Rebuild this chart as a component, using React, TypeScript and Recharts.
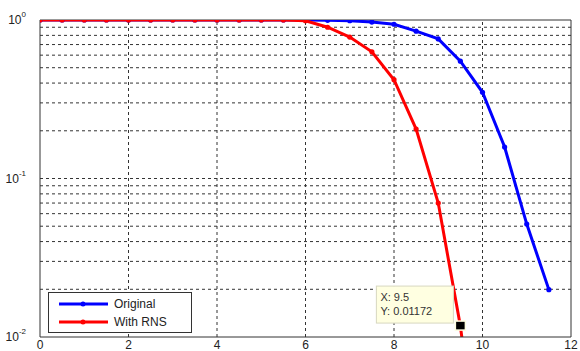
import * as React from "react"
import {
  LineChart,
  Line,
  XAxis,
  YAxis,
  ReferenceLine,
  ReferenceDot,
} from "recharts"

// x positions of the samples (Eb/N0-like axis)
const originalX = [0, 0.5, 1, 1.5, 2, 2.5, 3, 3.5, 4, 4.5, 5, 5.5, 6, 6.5, 7, 7.5, 8, 8.5, 9, 9.5, 10, 10.5, 11, 11.5]
const originalY = [1, 1, 1, 1, 1, 1, 1, 1, 1, 1, 1, 1, 1, 0.995, 0.99, 0.97, 0.94, 0.85, 0.76, 0.55, 0.35, 0.158, 0.0516, 0.0199]

const rnsX = [0, 0.5, 1, 1.5, 2, 2.5, 3, 3.5, 4, 4.5, 5, 5.5, 6, 6.5, 7, 7.5, 8, 8.5, 9, 9.5, 10]
const rnsY = [1, 1, 1, 1, 1, 1, 1, 1, 1, 1, 1, 1, 0.99, 0.9, 0.78, 0.63, 0.42, 0.205, 0.07, 0.01172, 0.001]

const xTicks = [0, 2, 4, 6, 8, 10, 12]
const yTicks = [0.01, 0.1, 1]
const yExponents = ["-2", "-1", "0"]
const yMinor = [0.02, 0.03, 0.04, 0.05, 0.06, 0.07, 0.08, 0.09, 0.1, 0.2, 0.3, 0.4, 0.5, 0.6, 0.7, 0.8, 0.9]
const xGrid = [2, 4, 6, 8, 10]

const tipX = 9.5
const tipY = 0.01172

const originalData = originalX.map((x, i) => ({ x, v: originalY[i] }))
const rnsData = rnsX.map((x, i) => ({ x, v: rnsY[i] }))

const FONT = "'Liberation Sans', Arial, sans-serif"

function YTick(props: any) {
  const { x, y, payload } = props
  const idx = yTicks.indexOf(payload.value)
  return (
    <text x={x - 6} y={y + 4} textAnchor="end" fontFamily={FONT} fontSize={12} fill="#222">
      10
      <tspan dy={-7} fontSize={8}>{yExponents[idx]}</tspan>
    </text>
  )
}

function XTick(props: any) {
  const { x, payload } = props
  return (
    <text x={x} y={349} textAnchor="middle" fontFamily={FONT} fontSize={12} fill="#222">
      {payload.value}
    </text>
  )
}

function Dot(color: string) {
  return (props: any) => {
    const { cx, cy } = props
    if (cx == null || cy == null || cy > 340) return <g key={props.key} />
    return <circle key={props.key} cx={cx} cy={cy} r={2.6} fill={color} stroke="none" />
  }
}

function DataTip(props: any) {
  const { cx, cy } = props
  return (
    <g>
      <rect x={cx - 84} y={cy - 40} width={77} height={37} fill="#ffffe1" stroke="#d8d8c0" />
      <text x={cx - 80} y={cy - 25} fontFamily={FONT} fontSize={11} fill="#333">X: 9.5</text>
      <text x={cx - 80} y={cy - 11} fontFamily={FONT} fontSize={11} fill="#333">Y: 0.01172</text>
      <rect x={cx - 5} y={cy - 5} width={10} height={9} fill="#000" stroke="#ffffe1" strokeWidth={1.5} />
    </g>
  )
}

function LegendBox() {
  const row = (color: string, label: string) => (
    <div style={{ display: "flex", alignItems: "center", height: 18 }}>
      <svg width={62} height={10}>
        <line x1={10} y1={5} x2={59} y2={5} stroke={color} strokeWidth={3} />
        <circle cx={34} cy={5} r={2.5} fill={color} />
      </svg>
      <span style={{ fontFamily: FONT, fontSize: 12, color: "#222", marginLeft: 3, lineHeight: "18px" }}>{label}</span>
    </div>
  )
  return (
    <div
      style={{
        position: "absolute",
        left: 48,
        top: 292,
        width: 144,
        height: 41,
        border: "1px solid #333",
        background: "#fff",
        boxSizing: "border-box",
        paddingTop: 2,
      }}
    >
      {row("#0000ff", "Original")}
      {row("#ff0000", "With RNS")}
    </div>
  )
}

export default function App() {
  return (
    <div style={{ position: "absolute", left: 0, top: 0, width: 580, height: 351, background: "#fff" }}>
      <LineChart width={580} height={351} margin={{ top: 20, right: 9, left: 0, bottom: 0 }}>
        <XAxis
          type="number"
          dataKey="x"
          domain={[0, 12]}
          ticks={xTicks}
          interval={0}
          height={14}
          tick={<XTick />}
          tickLine={false}
          axisLine={{ stroke: "#333" }}
          allowDataOverflow
        />
        <YAxis
          type="number"
          dataKey="v"
          scale="log"
          domain={[0.01, 1]}
          ticks={yTicks}
          interval={0}
          width={40}
          tick={<YTick />}
          tickLine={false}
          axisLine={{ stroke: "#333" }}
          allowDataOverflow
        />
        {yMinor.map((v) => (
          <ReferenceLine key={"h" + v} y={v} stroke="#333" strokeDasharray="3 3" strokeWidth={1} />
        ))}
        {xGrid.map((v) => (
          <ReferenceLine key={"v" + v} x={v} stroke="#333" strokeDasharray="3 3" strokeWidth={1} />
        ))}
        <ReferenceLine y={1} stroke="#333" strokeWidth={1} />
        <ReferenceLine x={12} stroke="#333" strokeWidth={1} />
        <Line
          data={originalData}
          dataKey="v"
          name="Original"
          stroke="#0000ff"
          strokeWidth={3}
          dot={Dot("#0000ff")}
          isAnimationActive={false}
        />
        <Line
          data={rnsData}
          dataKey="v"
          name="With RNS"
          stroke="#ff0000"
          strokeWidth={3}
          dot={Dot("#ff0000")}
          isAnimationActive={false}
        />
        <ReferenceDot x={tipX} y={tipY} r={4} shape={<DataTip />} />
      </LineChart>
      <LegendBox />
    </div>
  )
}
